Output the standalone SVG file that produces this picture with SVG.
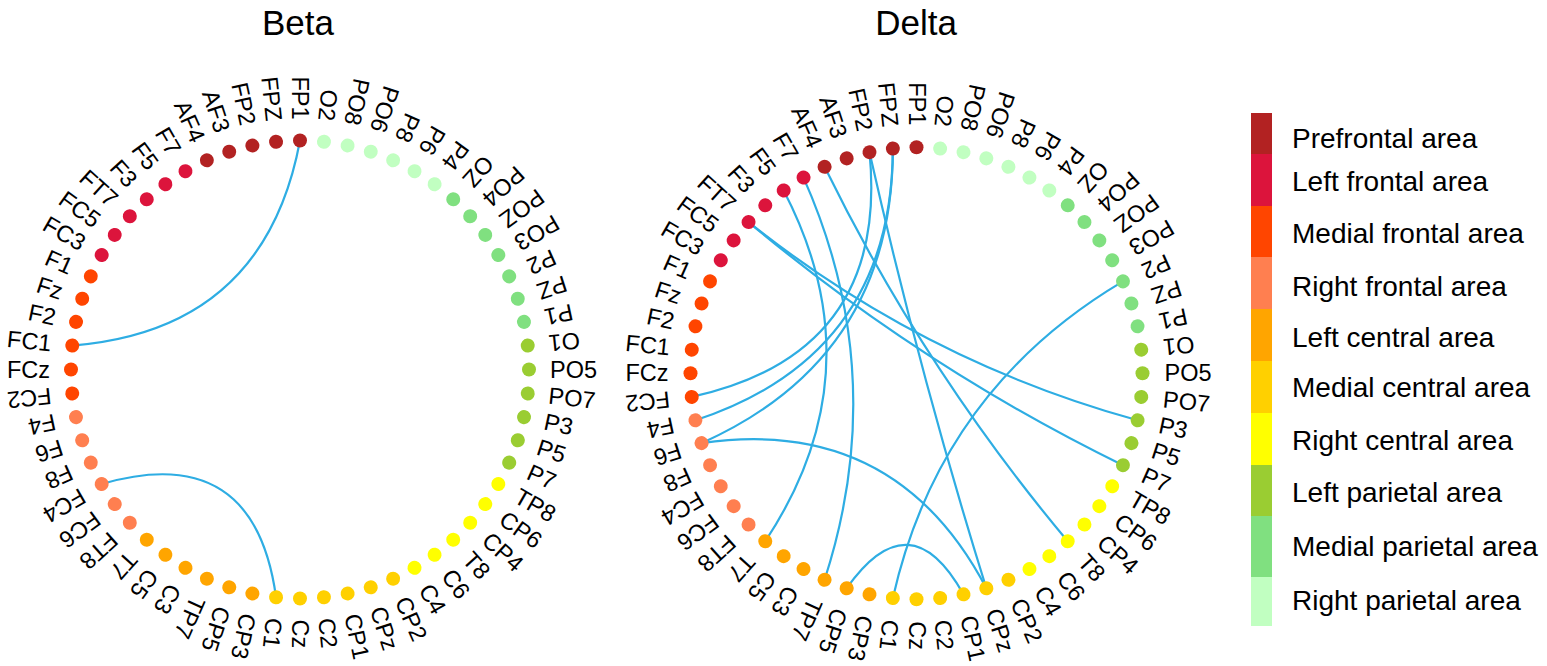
<svg xmlns="http://www.w3.org/2000/svg" width="1547" height="666" viewBox="0 0 1547 666">
<style>
text{font-family:"Liberation Sans",Arial,sans-serif;fill:#000}
.t{font-size:35px;text-anchor:middle}
.n text{font-size:23.5px;dominant-baseline:central}
.u{text-anchor:end}
.l{text-anchor:start}
.lg{font-size:28px;dominant-baseline:central}
.pf{fill:#B22222}.lf{fill:#DC143C}.mf{fill:#FF4500}.rf{fill:#FF7F50}.lc{fill:#FFA500}
.mc{fill:#FFD000}.rc{fill:#FFFF00}.lp{fill:#9ACD32}.mp{fill:#80E080}.rp{fill:#C1FFC1}
.cn{fill:none;stroke:#2EADE3;stroke-width:2.2}
</style>
<text class="t" x="298" y="35">Beta</text>
<text class="t" x="916" y="35">Delta</text>
<g id="connectors" class="cn">
<path d="M300,140.5 Q264.7,330.3 72.25,345.56"/>
<path d="M101.68,484 Q254.44,439.66 276.06,597.25"/>
<path d="M748.55,222.08 Q922.74,361.05 1137.56,420.29"/>
<path d="M748.55,222.08 Q920.95,366.45 1122.96,465.22"/>
<path d="M824.58,166.84 Q923.35,368.85 1067.72,541.25"/>
<path d="M783.66,190.46 Q877.7,371.3 765.28,541.25"/>
<path d="M803.5,177.58 Q891.09,374.63 824.58,579.76"/>
<path d="M869.51,152.24 Q919.11,372.6 986.34,588.24"/>
<path d="M701.56,443.14 Q895.24,415.02 986.34,588.24"/>
<path d="M846.66,588.24 Q909.94,498.43 963.49,594.36"/>
<path d="M1122.96,281.38 Q939.63,390.1 892.88,598.06"/>
<path d="M869.51,152.24 Q889.33,353.56 691.74,396.92"/>
<path d="M892.88,148.54 Q892.03,355.52 695.44,420.29"/>
<path d="M892.88,148.54 Q892.64,357.81 701.56,443.14"/>
</g>
<g id="beta" class="n">
<g id="b-O2" transform="rotate(6 300 369.5)"><circle class="rp" cx="300" cy="140.5" r="7"/><text class="u" transform="translate(300 119.5) rotate(90)">O2</text></g>
<g id="b-PO8" transform="rotate(12 300 369.5)"><circle class="rp" cx="300" cy="140.5" r="7"/><text class="u" transform="translate(300 119.5) rotate(90)">PO8</text></g>
<g id="b-PO6" transform="rotate(18 300 369.5)"><circle class="rp" cx="300" cy="140.5" r="7"/><text class="u" transform="translate(300 119.5) rotate(90)">PO6</text></g>
<g id="b-P8" transform="rotate(24 300 369.5)"><circle class="rp" cx="300" cy="140.5" r="7"/><text class="u" transform="translate(300 119.5) rotate(90)">P8</text></g>
<g id="b-P6" transform="rotate(30 300 369.5)"><circle class="rp" cx="300" cy="140.5" r="7"/><text class="u" transform="translate(300 119.5) rotate(90)">P6</text></g>
<g id="b-P4" transform="rotate(36 300 369.5)"><circle class="rp" cx="300" cy="140.5" r="7"/><text class="u" transform="translate(300 119.5) rotate(90)">P4</text></g>
<g id="b-OZ" transform="rotate(42 300 369.5)"><circle class="mp" cx="300" cy="140.5" r="7"/><text class="u" transform="translate(300 119.5) rotate(90)">OZ</text></g>
<g id="b-PO4" transform="rotate(48 300 369.5)"><circle class="mp" cx="300" cy="140.5" r="7"/><text class="u" transform="translate(300 119.5) rotate(90)">PO4</text></g>
<g id="b-POZ" transform="rotate(54 300 369.5)"><circle class="mp" cx="300" cy="140.5" r="7"/><text class="u" transform="translate(300 119.5) rotate(90)">POZ</text></g>
<g id="b-PO3" transform="rotate(60 300 369.5)"><circle class="mp" cx="300" cy="140.5" r="7"/><text class="u" transform="translate(300 119.5) rotate(90)">PO3</text></g>
<g id="b-P2" transform="rotate(66 300 369.5)"><circle class="mp" cx="300" cy="140.5" r="7"/><text class="u" transform="translate(300 119.5) rotate(90)">P2</text></g>
<g id="b-PZ" transform="rotate(72 300 369.5)"><circle class="mp" cx="300" cy="140.5" r="7"/><text class="u" transform="translate(300 119.5) rotate(90)">PZ</text></g>
<g id="b-P1" transform="rotate(78 300 369.5)"><circle class="mp" cx="300" cy="140.5" r="7"/><text class="u" transform="translate(300 119.5) rotate(90)">P1</text></g>
<g id="b-O1" transform="rotate(84 300 369.5)"><circle class="lp" cx="300" cy="140.5" r="7"/><text class="u" transform="translate(300 119.5) rotate(90)">O1</text></g>
<g id="b-PO5" transform="rotate(90 300 369.5)"><circle class="lp" cx="300" cy="140.5" r="7"/><text class="l" transform="translate(300 119.5) rotate(-90)">PO5</text></g>
<g id="b-PO7" transform="rotate(96 300 369.5)"><circle class="lp" cx="300" cy="140.5" r="7"/><text class="l" transform="translate(300 119.5) rotate(-90)">PO7</text></g>
<g id="b-P3" transform="rotate(102 300 369.5)"><circle class="lp" cx="300" cy="140.5" r="7"/><text class="l" transform="translate(300 119.5) rotate(-90)">P3</text></g>
<g id="b-P5" transform="rotate(108 300 369.5)"><circle class="lp" cx="300" cy="140.5" r="7"/><text class="l" transform="translate(300 119.5) rotate(-90)">P5</text></g>
<g id="b-P7" transform="rotate(114 300 369.5)"><circle class="lp" cx="300" cy="140.5" r="7"/><text class="l" transform="translate(300 119.5) rotate(-90)">P7</text></g>
<g id="b-TP8" transform="rotate(120 300 369.5)"><circle class="rc" cx="300" cy="140.5" r="7"/><text class="l" transform="translate(300 119.5) rotate(-90)">TP8</text></g>
<g id="b-CP6" transform="rotate(126 300 369.5)"><circle class="rc" cx="300" cy="140.5" r="7"/><text class="l" transform="translate(300 119.5) rotate(-90)">CP6</text></g>
<g id="b-CP4" transform="rotate(132 300 369.5)"><circle class="rc" cx="300" cy="140.5" r="7"/><text class="l" transform="translate(300 119.5) rotate(-90)">CP4</text></g>
<g id="b-T8" transform="rotate(138 300 369.5)"><circle class="rc" cx="300" cy="140.5" r="7"/><text class="l" transform="translate(300 119.5) rotate(-90)">T8</text></g>
<g id="b-C6" transform="rotate(144 300 369.5)"><circle class="rc" cx="300" cy="140.5" r="7"/><text class="l" transform="translate(300 119.5) rotate(-90)">C6</text></g>
<g id="b-C4" transform="rotate(150 300 369.5)"><circle class="rc" cx="300" cy="140.5" r="7"/><text class="l" transform="translate(300 119.5) rotate(-90)">C4</text></g>
<g id="b-CP2" transform="rotate(156 300 369.5)"><circle class="mc" cx="300" cy="140.5" r="7"/><text class="l" transform="translate(300 119.5) rotate(-90)">CP2</text></g>
<g id="b-CPz" transform="rotate(162 300 369.5)"><circle class="mc" cx="300" cy="140.5" r="7"/><text class="l" transform="translate(300 119.5) rotate(-90)">CPz</text></g>
<g id="b-CP1" transform="rotate(168 300 369.5)"><circle class="mc" cx="300" cy="140.5" r="7"/><text class="l" transform="translate(300 119.5) rotate(-90)">CP1</text></g>
<g id="b-C2" transform="rotate(174 300 369.5)"><circle class="mc" cx="300" cy="140.5" r="7"/><text class="l" transform="translate(300 119.5) rotate(-90)">C2</text></g>
<g id="b-Cz" transform="rotate(180 300 369.5)"><circle class="mc" cx="300" cy="140.5" r="7"/><text class="l" transform="translate(300 119.5) rotate(-90)">Cz</text></g>
<g id="b-C1" transform="rotate(186 300 369.5)"><circle class="mc" cx="300" cy="140.5" r="7"/><text class="l" transform="translate(300 119.5) rotate(-90)">C1</text></g>
<g id="b-CP3" transform="rotate(192 300 369.5)"><circle class="lc" cx="300" cy="140.5" r="7"/><text class="l" transform="translate(300 119.5) rotate(-90)">CP3</text></g>
<g id="b-CP5" transform="rotate(198 300 369.5)"><circle class="lc" cx="300" cy="140.5" r="7"/><text class="l" transform="translate(300 119.5) rotate(-90)">CP5</text></g>
<g id="b-TP7" transform="rotate(204 300 369.5)"><circle class="lc" cx="300" cy="140.5" r="7"/><text class="l" transform="translate(300 119.5) rotate(-90)">TP7</text></g>
<g id="b-C3" transform="rotate(210 300 369.5)"><circle class="lc" cx="300" cy="140.5" r="7"/><text class="l" transform="translate(300 119.5) rotate(-90)">C3</text></g>
<g id="b-C5" transform="rotate(216 300 369.5)"><circle class="lc" cx="300" cy="140.5" r="7"/><text class="l" transform="translate(300 119.5) rotate(-90)">C5</text></g>
<g id="b-T7" transform="rotate(222 300 369.5)"><circle class="lc" cx="300" cy="140.5" r="7"/><text class="l" transform="translate(300 119.5) rotate(-90)">T7</text></g>
<g id="b-FT8" transform="rotate(228 300 369.5)"><circle class="rf" cx="300" cy="140.5" r="7"/><text class="l" transform="translate(300 119.5) rotate(-90)">FT8</text></g>
<g id="b-FC6" transform="rotate(234 300 369.5)"><circle class="rf" cx="300" cy="140.5" r="7"/><text class="l" transform="translate(300 119.5) rotate(-90)">FC6</text></g>
<g id="b-FC4" transform="rotate(240 300 369.5)"><circle class="rf" cx="300" cy="140.5" r="7"/><text class="l" transform="translate(300 119.5) rotate(-90)">FC4</text></g>
<g id="b-F8" transform="rotate(246 300 369.5)"><circle class="rf" cx="300" cy="140.5" r="7"/><text class="l" transform="translate(300 119.5) rotate(-90)">F8</text></g>
<g id="b-F6" transform="rotate(252 300 369.5)"><circle class="rf" cx="300" cy="140.5" r="7"/><text class="l" transform="translate(300 119.5) rotate(-90)">F6</text></g>
<g id="b-F4" transform="rotate(258 300 369.5)"><circle class="rf" cx="300" cy="140.5" r="7"/><text class="l" transform="translate(300 119.5) rotate(-90)">F4</text></g>
<g id="b-FC2" transform="rotate(264 300 369.5)"><circle class="mf" cx="300" cy="140.5" r="7"/><text class="l" transform="translate(300 119.5) rotate(-90)">FC2</text></g>
<g id="b-FCz" transform="rotate(270 300 369.5)"><circle class="mf" cx="300" cy="140.5" r="7"/><text class="u" transform="translate(300 119.5) rotate(90)">FCz</text></g>
<g id="b-FC1" transform="rotate(276 300 369.5)"><circle class="mf" cx="300" cy="140.5" r="7"/><text class="u" transform="translate(300 119.5) rotate(90)">FC1</text></g>
<g id="b-F2" transform="rotate(282 300 369.5)"><circle class="mf" cx="300" cy="140.5" r="7"/><text class="u" transform="translate(300 119.5) rotate(90)">F2</text></g>
<g id="b-Fz" transform="rotate(288 300 369.5)"><circle class="mf" cx="300" cy="140.5" r="7"/><text class="u" transform="translate(300 119.5) rotate(90)">Fz</text></g>
<g id="b-F1" transform="rotate(294 300 369.5)"><circle class="mf" cx="300" cy="140.5" r="7"/><text class="u" transform="translate(300 119.5) rotate(90)">F1</text></g>
<g id="b-FC3" transform="rotate(300 300 369.5)"><circle class="lf" cx="300" cy="140.5" r="7"/><text class="u" transform="translate(300 119.5) rotate(90)">FC3</text></g>
<g id="b-FC5" transform="rotate(306 300 369.5)"><circle class="lf" cx="300" cy="140.5" r="7"/><text class="u" transform="translate(300 119.5) rotate(90)">FC5</text></g>
<g id="b-FT7" transform="rotate(312 300 369.5)"><circle class="lf" cx="300" cy="140.5" r="7"/><text class="u" transform="translate(300 119.5) rotate(90)">FT7</text></g>
<g id="b-F3" transform="rotate(318 300 369.5)"><circle class="lf" cx="300" cy="140.5" r="7"/><text class="u" transform="translate(300 119.5) rotate(90)">F3</text></g>
<g id="b-F5" transform="rotate(324 300 369.5)"><circle class="lf" cx="300" cy="140.5" r="7"/><text class="u" transform="translate(300 119.5) rotate(90)">F5</text></g>
<g id="b-F7" transform="rotate(330 300 369.5)"><circle class="lf" cx="300" cy="140.5" r="7"/><text class="u" transform="translate(300 119.5) rotate(90)">F7</text></g>
<g id="b-AF4" transform="rotate(336 300 369.5)"><circle class="pf" cx="300" cy="140.5" r="7"/><text class="u" transform="translate(300 119.5) rotate(90)">AF4</text></g>
<g id="b-AF3" transform="rotate(342 300 369.5)"><circle class="pf" cx="300" cy="140.5" r="7"/><text class="u" transform="translate(300 119.5) rotate(90)">AF3</text></g>
<g id="b-FP2" transform="rotate(348 300 369.5)"><circle class="pf" cx="300" cy="140.5" r="7"/><text class="u" transform="translate(300 119.5) rotate(90)">FP2</text></g>
<g id="b-FPZ" transform="rotate(354 300 369.5)"><circle class="pf" cx="300" cy="140.5" r="7"/><text class="u" transform="translate(300 119.5) rotate(90)">FPZ</text></g>
<g id="b-FP1"><circle class="pf" cx="300" cy="140.5" r="7"/><text class="u" transform="translate(300 119.5) rotate(90)">FP1</text></g>
</g>
<g id="delta" class="n">
<g id="d-O2" transform="rotate(6 916.5 373.3)"><circle class="rp" cx="916.5" cy="147.3" r="7"/><text class="u" transform="translate(916.5 125.3) rotate(90)">O2</text></g>
<g id="d-PO8" transform="rotate(12 916.5 373.3)"><circle class="rp" cx="916.5" cy="147.3" r="7"/><text class="u" transform="translate(916.5 125.3) rotate(90)">PO8</text></g>
<g id="d-PO6" transform="rotate(18 916.5 373.3)"><circle class="rp" cx="916.5" cy="147.3" r="7"/><text class="u" transform="translate(916.5 125.3) rotate(90)">PO6</text></g>
<g id="d-P8" transform="rotate(24 916.5 373.3)"><circle class="rp" cx="916.5" cy="147.3" r="7"/><text class="u" transform="translate(916.5 125.3) rotate(90)">P8</text></g>
<g id="d-P6" transform="rotate(30 916.5 373.3)"><circle class="rp" cx="916.5" cy="147.3" r="7"/><text class="u" transform="translate(916.5 125.3) rotate(90)">P6</text></g>
<g id="d-P4" transform="rotate(36 916.5 373.3)"><circle class="rp" cx="916.5" cy="147.3" r="7"/><text class="u" transform="translate(916.5 125.3) rotate(90)">P4</text></g>
<g id="d-OZ" transform="rotate(42 916.5 373.3)"><circle class="mp" cx="916.5" cy="147.3" r="7"/><text class="u" transform="translate(916.5 125.3) rotate(90)">OZ</text></g>
<g id="d-PO4" transform="rotate(48 916.5 373.3)"><circle class="mp" cx="916.5" cy="147.3" r="7"/><text class="u" transform="translate(916.5 125.3) rotate(90)">PO4</text></g>
<g id="d-POZ" transform="rotate(54 916.5 373.3)"><circle class="mp" cx="916.5" cy="147.3" r="7"/><text class="u" transform="translate(916.5 125.3) rotate(90)">POZ</text></g>
<g id="d-PO3" transform="rotate(60 916.5 373.3)"><circle class="mp" cx="916.5" cy="147.3" r="7"/><text class="u" transform="translate(916.5 125.3) rotate(90)">PO3</text></g>
<g id="d-P2" transform="rotate(66 916.5 373.3)"><circle class="mp" cx="916.5" cy="147.3" r="7"/><text class="u" transform="translate(916.5 125.3) rotate(90)">P2</text></g>
<g id="d-PZ" transform="rotate(72 916.5 373.3)"><circle class="mp" cx="916.5" cy="147.3" r="7"/><text class="u" transform="translate(916.5 125.3) rotate(90)">PZ</text></g>
<g id="d-P1" transform="rotate(78 916.5 373.3)"><circle class="mp" cx="916.5" cy="147.3" r="7"/><text class="u" transform="translate(916.5 125.3) rotate(90)">P1</text></g>
<g id="d-O1" transform="rotate(84 916.5 373.3)"><circle class="lp" cx="916.5" cy="147.3" r="7"/><text class="u" transform="translate(916.5 125.3) rotate(90)">O1</text></g>
<g id="d-PO5" transform="rotate(90 916.5 373.3)"><circle class="lp" cx="916.5" cy="147.3" r="7"/><text class="l" transform="translate(916.5 125.3) rotate(-90)">PO5</text></g>
<g id="d-PO7" transform="rotate(96 916.5 373.3)"><circle class="lp" cx="916.5" cy="147.3" r="7"/><text class="l" transform="translate(916.5 125.3) rotate(-90)">PO7</text></g>
<g id="d-P3" transform="rotate(102 916.5 373.3)"><circle class="lp" cx="916.5" cy="147.3" r="7"/><text class="l" transform="translate(916.5 125.3) rotate(-90)">P3</text></g>
<g id="d-P5" transform="rotate(108 916.5 373.3)"><circle class="lp" cx="916.5" cy="147.3" r="7"/><text class="l" transform="translate(916.5 125.3) rotate(-90)">P5</text></g>
<g id="d-P7" transform="rotate(114 916.5 373.3)"><circle class="lp" cx="916.5" cy="147.3" r="7"/><text class="l" transform="translate(916.5 125.3) rotate(-90)">P7</text></g>
<g id="d-TP8" transform="rotate(120 916.5 373.3)"><circle class="rc" cx="916.5" cy="147.3" r="7"/><text class="l" transform="translate(916.5 125.3) rotate(-90)">TP8</text></g>
<g id="d-CP6" transform="rotate(126 916.5 373.3)"><circle class="rc" cx="916.5" cy="147.3" r="7"/><text class="l" transform="translate(916.5 125.3) rotate(-90)">CP6</text></g>
<g id="d-CP4" transform="rotate(132 916.5 373.3)"><circle class="rc" cx="916.5" cy="147.3" r="7"/><text class="l" transform="translate(916.5 125.3) rotate(-90)">CP4</text></g>
<g id="d-T8" transform="rotate(138 916.5 373.3)"><circle class="rc" cx="916.5" cy="147.3" r="7"/><text class="l" transform="translate(916.5 125.3) rotate(-90)">T8</text></g>
<g id="d-C6" transform="rotate(144 916.5 373.3)"><circle class="rc" cx="916.5" cy="147.3" r="7"/><text class="l" transform="translate(916.5 125.3) rotate(-90)">C6</text></g>
<g id="d-C4" transform="rotate(150 916.5 373.3)"><circle class="rc" cx="916.5" cy="147.3" r="7"/><text class="l" transform="translate(916.5 125.3) rotate(-90)">C4</text></g>
<g id="d-CP2" transform="rotate(156 916.5 373.3)"><circle class="mc" cx="916.5" cy="147.3" r="7"/><text class="l" transform="translate(916.5 125.3) rotate(-90)">CP2</text></g>
<g id="d-CPz" transform="rotate(162 916.5 373.3)"><circle class="mc" cx="916.5" cy="147.3" r="7"/><text class="l" transform="translate(916.5 125.3) rotate(-90)">CPz</text></g>
<g id="d-CP1" transform="rotate(168 916.5 373.3)"><circle class="mc" cx="916.5" cy="147.3" r="7"/><text class="l" transform="translate(916.5 125.3) rotate(-90)">CP1</text></g>
<g id="d-C2" transform="rotate(174 916.5 373.3)"><circle class="mc" cx="916.5" cy="147.3" r="7"/><text class="l" transform="translate(916.5 125.3) rotate(-90)">C2</text></g>
<g id="d-Cz" transform="rotate(180 916.5 373.3)"><circle class="mc" cx="916.5" cy="147.3" r="7"/><text class="l" transform="translate(916.5 125.3) rotate(-90)">Cz</text></g>
<g id="d-C1" transform="rotate(186 916.5 373.3)"><circle class="mc" cx="916.5" cy="147.3" r="7"/><text class="l" transform="translate(916.5 125.3) rotate(-90)">C1</text></g>
<g id="d-CP3" transform="rotate(192 916.5 373.3)"><circle class="lc" cx="916.5" cy="147.3" r="7"/><text class="l" transform="translate(916.5 125.3) rotate(-90)">CP3</text></g>
<g id="d-CP5" transform="rotate(198 916.5 373.3)"><circle class="lc" cx="916.5" cy="147.3" r="7"/><text class="l" transform="translate(916.5 125.3) rotate(-90)">CP5</text></g>
<g id="d-TP7" transform="rotate(204 916.5 373.3)"><circle class="lc" cx="916.5" cy="147.3" r="7"/><text class="l" transform="translate(916.5 125.3) rotate(-90)">TP7</text></g>
<g id="d-C3" transform="rotate(210 916.5 373.3)"><circle class="lc" cx="916.5" cy="147.3" r="7"/><text class="l" transform="translate(916.5 125.3) rotate(-90)">C3</text></g>
<g id="d-C5" transform="rotate(216 916.5 373.3)"><circle class="lc" cx="916.5" cy="147.3" r="7"/><text class="l" transform="translate(916.5 125.3) rotate(-90)">C5</text></g>
<g id="d-T7" transform="rotate(222 916.5 373.3)"><circle class="lc" cx="916.5" cy="147.3" r="7"/><text class="l" transform="translate(916.5 125.3) rotate(-90)">T7</text></g>
<g id="d-FT8" transform="rotate(228 916.5 373.3)"><circle class="rf" cx="916.5" cy="147.3" r="7"/><text class="l" transform="translate(916.5 125.3) rotate(-90)">FT8</text></g>
<g id="d-FC6" transform="rotate(234 916.5 373.3)"><circle class="rf" cx="916.5" cy="147.3" r="7"/><text class="l" transform="translate(916.5 125.3) rotate(-90)">FC6</text></g>
<g id="d-FC4" transform="rotate(240 916.5 373.3)"><circle class="rf" cx="916.5" cy="147.3" r="7"/><text class="l" transform="translate(916.5 125.3) rotate(-90)">FC4</text></g>
<g id="d-F8" transform="rotate(246 916.5 373.3)"><circle class="rf" cx="916.5" cy="147.3" r="7"/><text class="l" transform="translate(916.5 125.3) rotate(-90)">F8</text></g>
<g id="d-F6" transform="rotate(252 916.5 373.3)"><circle class="rf" cx="916.5" cy="147.3" r="7"/><text class="l" transform="translate(916.5 125.3) rotate(-90)">F6</text></g>
<g id="d-F4" transform="rotate(258 916.5 373.3)"><circle class="rf" cx="916.5" cy="147.3" r="7"/><text class="l" transform="translate(916.5 125.3) rotate(-90)">F4</text></g>
<g id="d-FC2" transform="rotate(264 916.5 373.3)"><circle class="mf" cx="916.5" cy="147.3" r="7"/><text class="l" transform="translate(916.5 125.3) rotate(-90)">FC2</text></g>
<g id="d-FCz" transform="rotate(270 916.5 373.3)"><circle class="mf" cx="916.5" cy="147.3" r="7"/><text class="u" transform="translate(916.5 125.3) rotate(90)">FCz</text></g>
<g id="d-FC1" transform="rotate(276 916.5 373.3)"><circle class="mf" cx="916.5" cy="147.3" r="7"/><text class="u" transform="translate(916.5 125.3) rotate(90)">FC1</text></g>
<g id="d-F2" transform="rotate(282 916.5 373.3)"><circle class="mf" cx="916.5" cy="147.3" r="7"/><text class="u" transform="translate(916.5 125.3) rotate(90)">F2</text></g>
<g id="d-Fz" transform="rotate(288 916.5 373.3)"><circle class="mf" cx="916.5" cy="147.3" r="7"/><text class="u" transform="translate(916.5 125.3) rotate(90)">Fz</text></g>
<g id="d-F1" transform="rotate(294 916.5 373.3)"><circle class="mf" cx="916.5" cy="147.3" r="7"/><text class="u" transform="translate(916.5 125.3) rotate(90)">F1</text></g>
<g id="d-FC3" transform="rotate(300 916.5 373.3)"><circle class="lf" cx="916.5" cy="147.3" r="7"/><text class="u" transform="translate(916.5 125.3) rotate(90)">FC3</text></g>
<g id="d-FC5" transform="rotate(306 916.5 373.3)"><circle class="lf" cx="916.5" cy="147.3" r="7"/><text class="u" transform="translate(916.5 125.3) rotate(90)">FC5</text></g>
<g id="d-FT7" transform="rotate(312 916.5 373.3)"><circle class="lf" cx="916.5" cy="147.3" r="7"/><text class="u" transform="translate(916.5 125.3) rotate(90)">FT7</text></g>
<g id="d-F3" transform="rotate(318 916.5 373.3)"><circle class="lf" cx="916.5" cy="147.3" r="7"/><text class="u" transform="translate(916.5 125.3) rotate(90)">F3</text></g>
<g id="d-F5" transform="rotate(324 916.5 373.3)"><circle class="lf" cx="916.5" cy="147.3" r="7"/><text class="u" transform="translate(916.5 125.3) rotate(90)">F5</text></g>
<g id="d-F7" transform="rotate(330 916.5 373.3)"><circle class="lf" cx="916.5" cy="147.3" r="7"/><text class="u" transform="translate(916.5 125.3) rotate(90)">F7</text></g>
<g id="d-AF4" transform="rotate(336 916.5 373.3)"><circle class="pf" cx="916.5" cy="147.3" r="7"/><text class="u" transform="translate(916.5 125.3) rotate(90)">AF4</text></g>
<g id="d-AF3" transform="rotate(342 916.5 373.3)"><circle class="pf" cx="916.5" cy="147.3" r="7"/><text class="u" transform="translate(916.5 125.3) rotate(90)">AF3</text></g>
<g id="d-FP2" transform="rotate(348 916.5 373.3)"><circle class="pf" cx="916.5" cy="147.3" r="7"/><text class="u" transform="translate(916.5 125.3) rotate(90)">FP2</text></g>
<g id="d-FPZ" transform="rotate(354 916.5 373.3)"><circle class="pf" cx="916.5" cy="147.3" r="7"/><text class="u" transform="translate(916.5 125.3) rotate(90)">FPZ</text></g>
<g id="d-FP1"><circle class="pf" cx="916.5" cy="147.3" r="7"/><text class="u" transform="translate(916.5 125.3) rotate(90)">FP1</text></g>
</g>
<g id="legend">
<rect class="pf" x="1251" y="113" width="21" height="41"/>
<rect class="lf" x="1251" y="154" width="21" height="52"/>
<rect class="mf" x="1251" y="206" width="21" height="51"/>
<rect class="rf" x="1251" y="257" width="21" height="52"/>
<rect class="lc" x="1251" y="309" width="21" height="52"/>
<rect class="mc" x="1251" y="361" width="21" height="52"/>
<rect class="rc" x="1251" y="413" width="21" height="52"/>
<rect class="lp" x="1251" y="465" width="21" height="51"/>
<rect class="mp" x="1251" y="516" width="21" height="61"/>
<rect class="rp" x="1251" y="577" width="21" height="49"/>
<text class="lg" x="1292" y="138">Prefrontal area</text>
<text class="lg" x="1292" y="181">Left frontal area</text>
<text class="lg" x="1292" y="233">Medial frontal area</text>
<text class="lg" x="1292" y="286">Right frontal area</text>
<text class="lg" x="1292" y="337">Left central area</text>
<text class="lg" x="1292" y="387">Medial central area</text>
<text class="lg" x="1292" y="440">Right central area</text>
<text class="lg" x="1292" y="492">Left parietal area</text>
<text class="lg" x="1292" y="546">Medial parietal area</text>
<text class="lg" x="1292" y="600">Right parietal area</text>
</g>
</svg>
